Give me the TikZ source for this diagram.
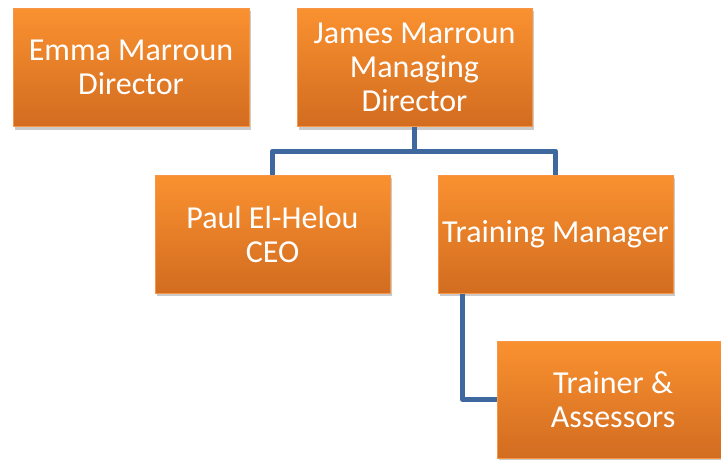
\documentclass[tikz,border=0pt]{standalone}
\usepackage{fontspec}
\setmainfont{Carlito}
\usetikzlibrary{shadows,calc}
\definecolor{orTop}{HTML}{FA9130}
\definecolor{orBot}{HTML}{D26C20}
\definecolor{orLine}{HTML}{F79646}
\definecolor{conBlue}{HTML}{3F699E}
\tikzset{
  orgbox/.style={rectangle, draw=orLine, line width=1pt, top color=orTop, bottom color=orBot,
    text=white, align=center, inner sep=0pt, minimum height=118pt,
    font=\fontsize{32}{34}\selectfont,
    drop shadow={shadow xshift=2pt, shadow yshift=-3pt, opacity=0.35, fill=black!60}},
  conn/.style={draw=conBlue, line width=5pt, line join=round, line cap=butt}
}
\begin{document}
\begin{tikzpicture}[x=1pt,y=-1pt]
\useasboundingbox (0,0) rectangle (721,460);
\clip (0,0) rectangle (721,460);
\node[orgbox, minimum width=236pt] (emma) at (131,67.5) {Emma Marroun\\Director};
\node[orgbox, minimum width=235pt] (james) at (414.5,67.5) {James Marroun\\Managing\\Director};
\node[orgbox, minimum width=235pt] (paul) at (272.5,234) {Paul El-Helou\\CEO};
\node[orgbox, minimum width=235pt] (tm) at (555.5,234) {Training Manager};
\node[orgbox, minimum width=232pt, minimum height=117pt] (trainer) at (613,399.5) {Trainer \&\\Assessors};
\coordinate (split) at ($(james.south)+(0,24)$);
\coordinate (tmtap) at ($(tm.south west)+(25,0)$);
\draw[conn] (james.south) -- (split) -| (paul.north);
\draw[conn] (split) -| (tm.north);
\draw[conn] (tmtap) |- (trainer.west);
\end{tikzpicture}
\end{document}
